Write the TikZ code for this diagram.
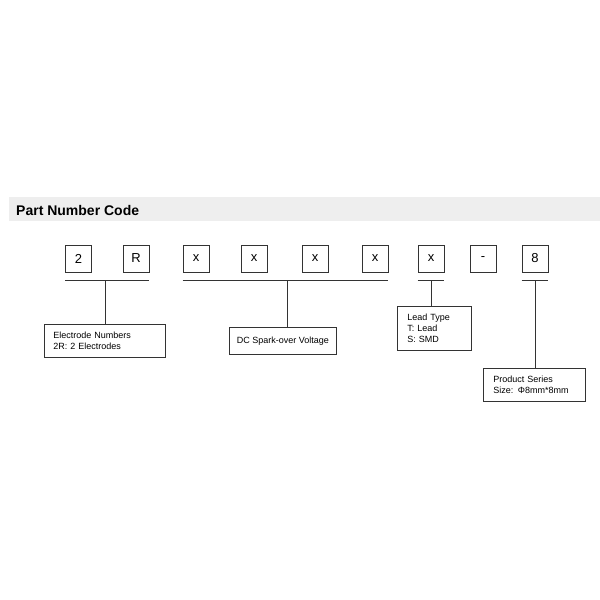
\documentclass[tikz,border=0pt]{standalone}
\usepackage{fontspec}
\setmainfont{Liberation Sans}
\definecolor{band}{HTML}{EEEEEE}
\definecolor{ln}{HTML}{333333}
\begin{document}
\begin{tikzpicture}[x=1pt,y=-1pt,
 digit/.style={draw=ln,line width=0.8pt,minimum width=26pt,minimum height=27pt,inner sep=0pt,font=\fontsize{13}{15}\selectfont},
 lab/.style={draw=ln,line width=0.8pt,anchor=north west,inner xsep=9pt,inner ysep=0pt,align=left,font=\fontsize{9}{11.3}\selectfont},
 conn/.style={draw=ln,line width=0.8pt}]
\useasboundingbox (0,0) rectangle (600,600);
\fill[band] (9,197) rectangle (600,221);
\node[anchor=base west,inner sep=0pt,font=\bfseries\fontsize{14}{16}\selectfont] (title) at (16,215) {Part Number Code};
% code boxes
\node[digit] (d1) at (78.5,258.5) {2};
\node[digit] (d2) at (136,258.5) {R};
\node[digit] (d3) at (196,258.5) {x};
\node[digit] (d4) at (254,258.5) {x};
\node[digit] (d5) at (315,258.5) {x};
\node[digit] (d6) at (375,258.5) {x};
\node[digit] (d7) at (431,258.5) {x};
\node[digit] (d8) at (483,258.5) {-};
\node[digit] (d9) at (535,258.5) {8};
% bars
\draw[conn] ([yshift=-8pt]d1.south west) -- ([yshift=-8pt]d2.south east);
\draw[conn] ([yshift=-8pt]d3.south west) -- ([yshift=-8pt]d6.south east);
\draw[conn] ([yshift=-8pt]d7.south west) -- ([yshift=-8pt]d7.south east);
\draw[conn] ([yshift=-8pt]d9.south west) -- ([yshift=-8pt]d9.south east);
\coordinate (j1) at (105,280);
\coordinate (j2) at (287,280);
\coordinate (j3) at (431,280);
\coordinate (j4) at (535,280);
% labels
\node[lab,text width=103pt,minimum height=33pt] (elec) at (44,324) {Electrode Numbers\\2R: 2 Electrodes};
\node[lab,align=center,inner xsep=0pt,minimum width=107pt,minimum height=27pt] (dc) at (229,327) {DC Spark-over Voltage};
\node[lab,inner xsep=10pt,text width=54pt,minimum height=44pt] (lead) at (397,306) {Lead Type\\T: Lead\\S: SMD};
\node[lab,inner xsep=10pt,text width=82pt,minimum height=33pt] (prod) at (483,368) {Product Series\\Size: Φ8mm*8mm};
% connectors
\draw[conn] (j1) -- (j1 |- elec.north);
\draw[conn] (j2) -- (j2 |- dc.north);
\draw[conn] (j3) -- (j3 |- lead.north);
\draw[conn] (j4) -- (j4 |- prod.north);
\end{tikzpicture}
\end{document}
